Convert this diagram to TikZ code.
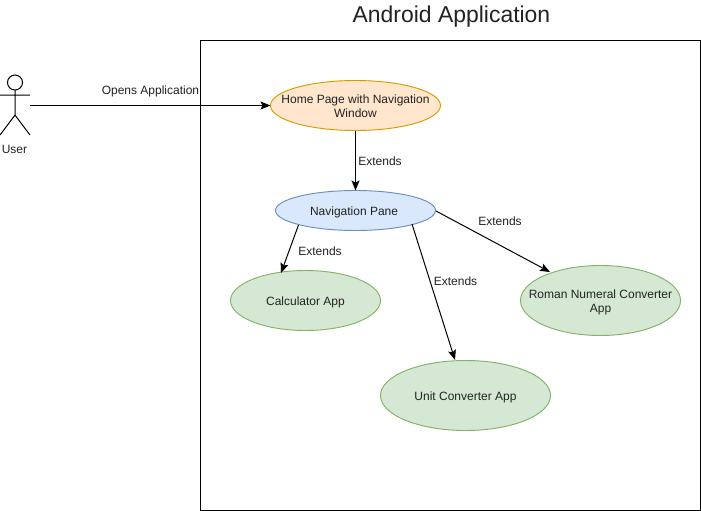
\documentclass[tikz,border=0pt]{standalone}
\usepackage{fontspec}
\setmainfont{Liberation Sans}
\usetikzlibrary{shapes.geometric,arrows.meta}
\definecolor{orf}{HTML}{FFE6CC}\definecolor{ord}{HTML}{D79B00}
\definecolor{blf}{HTML}{DAE8FC}\definecolor{bld}{HTML}{6C8EBF}
\definecolor{grf}{HTML}{D5E8D4}\definecolor{grd}{HTML}{82B366}
\definecolor{txt}{HTML}{222222}
\newcommand{\ctext}[1]{\raisebox{-3.6pt}[0pt][0pt]{\makebox[0pt][c]{\begin{tabular}{@{}c@{}}#1\end{tabular}}}}
\tikzset{x=0.75pt,y=-0.75pt,
 uc/.style={ellipse,draw,line width=0.7pt,inner sep=0pt,outer sep=0pt,align=center,text=txt,font=\fontsize{9}{10.5}\selectfont},
 orange uc/.style={uc,fill=orf,draw=ord},
 blue uc/.style={uc,fill=blf,draw=bld},
 green uc/.style={uc,fill=grf,draw=grd},
 lbl/.style={inner sep=0pt,text=txt,font=\fontsize{9}{10.5}\selectfont},
 conn/.style={-{Stealth[length=7.5pt,width=6pt,inset=1.5pt]},line width=0.75pt},
 actorline/.style={line width=0.75pt}}
\begin{document}
\begin{tikzpicture}
\useasboundingbox (0,0) rectangle (701,511);
\fill[white] (0,0) rectangle (701,511);
\node[draw,line width=0.75pt,minimum width=500*0.75pt,minimum height=470*0.75pt,inner sep=0pt,outer sep=0pt] (box) at (450.5,275.5) {};
\node[inner sep=0pt,text=txt,font=\fontsize{17.2}{20}\selectfont] (title) at (451.5,17) {Android Application};
\node[orange uc,minimum width=170*0.75pt,minimum height=50*0.75pt] (home) at (355.5,105.5) {\ctext{Home Page with Navigation\\Window}};
\node[blue uc,minimum width=160*0.75pt,minimum height=40*0.75pt] (nav) at (355.5,210.5) {\hspace{-2.2pt}\ctext{Navigation Pane}};
\node[green uc,minimum width=150*0.75pt,minimum height=60*0.75pt] (calc) at (305.5,300.5) {\ctext{Calculator App}};
\node[green uc,minimum width=170*0.75pt,minimum height=70*0.75pt] (unit) at (465.5,395.5) {\ctext{Unit Converter App}};
\node[green uc,minimum width=160*0.75pt,minimum height=70*0.75pt] (roman) at (600.5,300.5) {\ctext{Roman Numeral Converter\\App}};
\coordinate (head) at (15,82.5);
\draw[actorline] (head) circle[radius=7.5];
\coordinate (neck) at (15,90);
\coordinate (hip) at (15,115);
\coordinate (armL) at (0,95);
\coordinate (armR) at (30,95);
\coordinate (footL) at (0,135);
\coordinate (footR) at (30,135);
\draw[actorline] (neck) -- (hip) (armL) -- (armR) (hip) -- (footL) (hip) -- (footR);
\node[lbl] (user) at (14.5,149) {User};
\coordinate (actorout) at (30,105.5);
\draw[conn] (actorout) -- (home.west);
\draw[conn] (home.south) -- (nav.north);
\coordinate (navA) at (298.5,225);
\coordinate (navB) at (412,224);
\coordinate (navC) at (436,211);
\coordinate (calcT) at (281,273);
\coordinate (unitT) at (455,360);
\coordinate (romanT) at (550,272);
\draw[conn] (navA) -- (calcT);
\draw[conn] (navB) -- (unitT);
\draw[conn] (navC) -- (romanT);
\node[lbl] (l1) at (150.5,91) {Opens Application};
\node[lbl] (l2) at (380,161) {Extends};
\node[lbl] (l3) at (320,251) {Extends};
\node[lbl] (l4) at (455.5,281) {Extends};
\node[lbl] (l5) at (500,221) {Extends};
\end{tikzpicture}
\end{document}
